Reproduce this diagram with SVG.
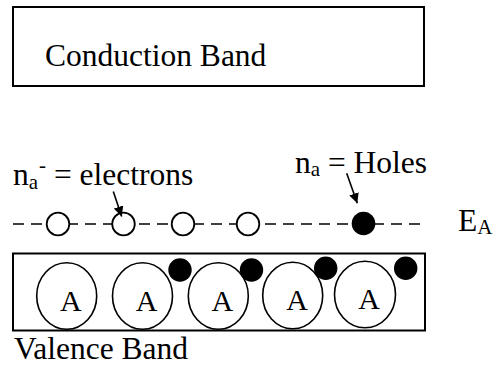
<svg xmlns="http://www.w3.org/2000/svg" width="495" height="365" viewBox="0 0 495 365" font-family="'Liberation Serif', 'DejaVu Serif', serif">
<defs>
<style>
text{font-family:'Liberation Serif','DejaVu Serif',serif;fill:#000;font-size:31.5px}
text.atomlabel{font-size:30px}
.box{fill:#fff;stroke:#000;stroke-width:2}
.open{fill:#fff;stroke:#000;stroke-width:1.8}
.filled{fill:#000;stroke:none}
.atom{fill:#fff;stroke:#000;stroke-width:1.6}
.sub{font-size:21px}
.conn{stroke:#000;stroke-width:1.6;fill:none}
</style>
<marker id="ah" viewBox="0 0 10 10" refX="10" refY="5" markerWidth="10" markerHeight="10" markerUnits="userSpaceOnUse" orient="auto">
<path d="M0,0 L10,5 L0,10 Z" fill="#000"/>
</marker>
</defs>
<g id="conduction-band">
<rect class="box" x="13" y="7" width="411" height="79"/>
<text x="45" y="65.5">Conduction Band</text>
</g>
<g id="acceptor-level">
<line x1="13" y1="224" x2="422" y2="224" stroke="#000" stroke-width="1.6" stroke-dasharray="11 7"/>
<circle class="open" cx="58" cy="224" r="11.3"/>
<circle class="open" cx="123.5" cy="224" r="11.3"/>
<circle class="open" cx="183" cy="224" r="11.3"/>
<circle class="open" cx="248" cy="224" r="11.3"/>
<circle class="filled" cx="363.5" cy="223.5" r="11.8"/>
<text x="458" y="231">E<tspan class="sub" dy="3">A</tspan></text>
</g>
<g id="label-electrons">
<text x="13" y="185">n<tspan class="sub" dy="3.5">a</tspan><tspan class="sub" dx="1" dy="-17">-</tspan><tspan dy="13.5"> = electrons</tspan></text>
</g>
<g id="label-holes">
<text x="295" y="172.5">n<tspan class="sub" dy="3.5">a</tspan><tspan dy="-3.5"> = Holes</tspan></text>
</g>
<g id="connectors">
<line class="conn" x1="113.3" y1="191.5" x2="121.7" y2="216.5" marker-end="url(#ah)"/>
<line class="conn" x1="346.7" y1="173.3" x2="357.3" y2="203.3" marker-end="url(#ah)"/>
</g>
<g id="valence-band">
<rect class="box" x="13" y="253.5" width="412" height="77"/>
<ellipse class="atom" cx="66.7" cy="296" rx="30" ry="33.3"/>
<ellipse class="atom" cx="142.5" cy="296" rx="30" ry="33.3"/>
<ellipse class="atom" cx="218.3" cy="296" rx="30" ry="33.3"/>
<ellipse class="atom" cx="292.7" cy="295.5" rx="30" ry="33.3"/>
<ellipse class="atom" cx="365" cy="294.5" rx="30.5" ry="33.3"/>
<text class="atomlabel" x="70.8" y="310.5" text-anchor="middle">A</text>
<text class="atomlabel" x="146.5" y="310.5" text-anchor="middle">A</text>
<text class="atomlabel" x="222.3" y="310.5" text-anchor="middle">A</text>
<text class="atomlabel" x="297" y="310" text-anchor="middle">A</text>
<text class="atomlabel" x="369" y="308.5" text-anchor="middle">A</text>
<circle class="filled" cx="180" cy="270" r="11.7"/>
<circle class="filled" cx="251.5" cy="270" r="11.7"/>
<circle class="filled" cx="325.7" cy="268.3" r="11.7"/>
<circle class="filled" cx="405.7" cy="268.3" r="11.7"/>
<text x="14" y="359">Valence Band</text>
</g>
</svg>
